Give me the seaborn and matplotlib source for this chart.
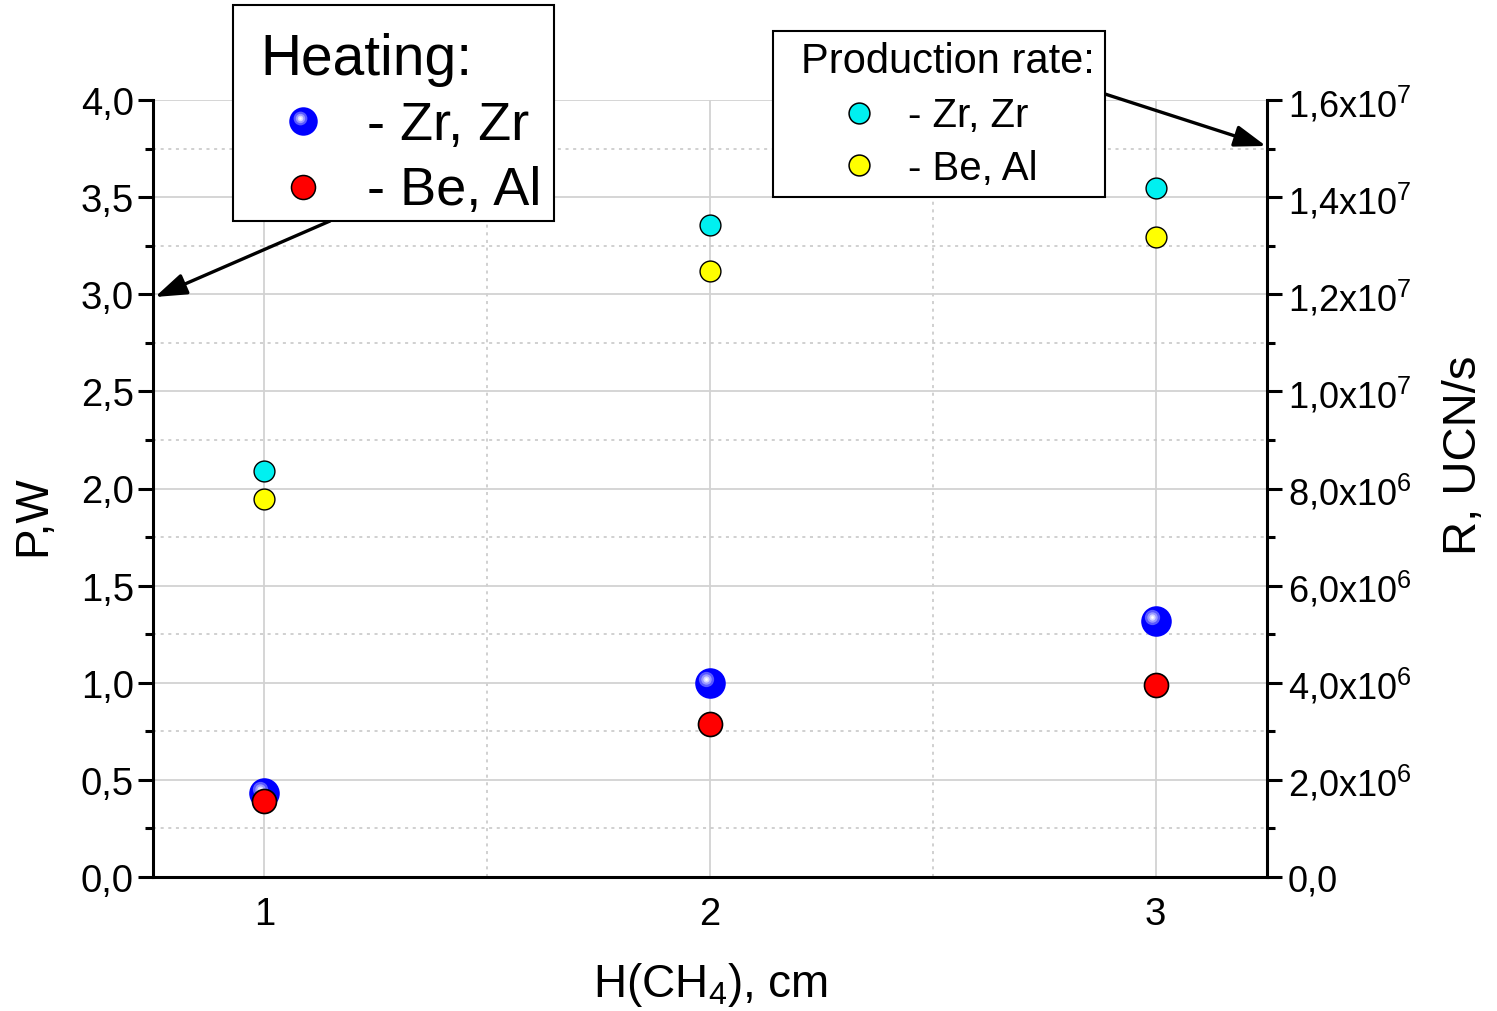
import matplotlib
matplotlib.use("Agg")
import matplotlib.pyplot as plt
import seaborn as sns
import pandas as pd
from matplotlib.patches import Rectangle
from matplotlib.lines import Line2D
from matplotlib.transforms import offset_copy
from matplotlib.ticker import FixedLocator

# ---- data -------------------------------------------------------------
h_cm = [1, 2, 3]                                  # H(CH4), cm
heat_zr_zr = [0.43, 1.00, 1.32]                   # P, W  (Zr, Zr)
heat_be_al = [0.39, 0.79, 0.99]                   # P, W  (Be, Al)
rate_zr_zr = [8.36e6, 1.343e7, 1.419e7]           # R, UCN/s (Zr, Zr)
rate_be_al = [7.78e6, 1.248e7, 1.318e7]           # R, UCN/s (Be, Al)

x_ticks = [1, 2, 3]
x_labels = ["1", "2", "3"]
p_ticks = [0.0, 0.5, 1.0, 1.5, 2.0, 2.5, 3.0, 3.5, 4.0]
p_labels = ["0,0", "0,5", "1,0", "1,5", "2,0", "2,5", "3,0", "3,5", "4,0"]
r_ticks = [0, 2e6, 4e6, 6e6, 8e6, 1e7, 1.2e7, 1.4e7, 1.6e7]
r_mant = ["0,0", "2,0", "4,0", "6,0", "8,0", "1,0", "1,2", "1,4", "1,6"]
r_exp = [None, 6, 6, 6, 6, 7, 7, 7, 7]

heat = pd.DataFrame({"H": h_cm, "ZrZr": heat_zr_zr, "BeAl": heat_be_al})
rate = pd.DataFrame({"H": h_cm, "ZrZr": rate_zr_zr, "BeAl": rate_be_al})

# ---- style ------------------------------------------------------------
sns.set_style("white")
plt.rcParams.update({
    "font.family": ["Liberation Sans", "DejaVu Sans"],
    "mathtext.fontset": "custom",
    "mathtext.rm": "Liberation Sans",
    "mathtext.it": "Liberation Sans:italic",
    "mathtext.bf": "Liberation Sans:bold",
    "text.color": "black",
    "axes.edgecolor": "black",
})

W, H = 1497, 1012
fig = plt.figure(figsize=(W / 100, H / 100), dpi=100)
fig.subplots_adjust(left=153 / W, right=1267 / W, bottom=1 - 878 / H, top=1 - 101 / H)
ax = fig.add_subplot(111)
ax2 = ax.twinx()


def fx(px):
    return px / W


def fy(py):
    return 1 - py / H


BLUE, RED, CYAN, YELLOW = "#0000ff", "#ff0000", "#00f0f0", "#ffff00"
D_BLUE, D_RED, D_SMALL = 22.0, 17.3, 15.0       # marker diameters, pt
S_BLUE, S_RED, S_SMALL = D_BLUE ** 2, D_RED ** 2, D_SMALL ** 2
GLINT = ((11.0, "#5a5aff"), (7.5, "#9a9aff"), (4.5, "#d8d8ff"), (2.0, "white"))


def sphere_glint(axis, xs, ys, transform_base, **kw):
    """Light spot drawn up-left of each blue ball to give it a shaded look."""
    tr = offset_copy(transform_base, fig=fig, x=-4, y=4, units="dots")
    for d, c in GLINT:
        axis.scatter(xs, ys, s=d ** 2, color=c, linewidths=0, transform=tr, **kw)


# ---- heating (left axis) ---------------------------------------------
sns.scatterplot(data=heat, x="H", y="ZrZr", ax=ax, color=BLUE, s=S_BLUE,
                linewidth=0, zorder=3, legend=False)
sphere_glint(ax, heat["H"], heat["ZrZr"], ax.transData, zorder=3.1)
sns.scatterplot(data=heat, x="H", y="BeAl", ax=ax, color=RED, s=S_RED,
                edgecolor="black", linewidth=1.2, zorder=4, legend=False)

# ---- production rate (right axis) -------------------------------------
sns.scatterplot(data=rate, x="H", y="ZrZr", ax=ax2, color=CYAN, s=S_SMALL,
                edgecolor="black", linewidth=1.0, zorder=4, legend=False)
sns.scatterplot(data=rate, x="H", y="BeAl", ax=ax2, color=YELLOW, s=S_SMALL,
                edgecolor="black", linewidth=1.0, zorder=4, legend=False)

# ---- axes -------------------------------------------------------------
ax.set_xlim(0.75, 3.25)
ax.set_ylim(0, 4.0)
ax2.set_ylim(0, 1.6e7)

ax.xaxis.set_major_locator(FixedLocator(x_ticks))
ax.set_xticklabels(x_labels)
ax.xaxis.set_minor_locator(FixedLocator([1.5, 2.5]))
ax.yaxis.set_major_locator(FixedLocator(p_ticks))
ax.set_yticklabels(p_labels)
ax.yaxis.set_minor_locator(FixedLocator([0.25 + 0.5 * i for i in range(8)]))

ax2.yaxis.set_major_locator(FixedLocator(r_ticks))
ax2.set_yticklabels([
    m if e is None else r"$\mathregular{%sx10^{%d}}$" % (m.replace(",", "{,}"), e)
    for m, e in zip(r_mant, r_exp)
])
ax2.yaxis.set_minor_locator(FixedLocator([1e6 + 2e6 * i for i in range(8)]))

ax.set_xlabel("")
ax.set_ylabel("")
ax2.set_ylabel("")

ax.grid(True, which="major", color="#d2d2d2", linewidth=1.3, linestyle="-")
ax.grid(True, which="minor", color="#c4c4c4", linewidth=1.1, linestyle=(0, (2, 3)))
ax.set_axisbelow(True)
ax2.grid(False)

for a in (ax, ax2):
    for side in ("top", "left", "right", "bottom"):
        a.spines[side].set_visible(False)
ax.spines["left"].set_visible(True)
ax.spines["bottom"].set_visible(True)
ax2.spines["right"].set_visible(True)
for sp in (ax.spines["left"], ax.spines["bottom"], ax2.spines["right"]):
    sp.set_linewidth(2.2)
    sp.set_color("black")

ax.tick_params(axis="both", which="major", direction="out", length=10.8, width=2.2,
               labelsize=27.5, pad=3, colors="black", top=False, right=False)
ax.tick_params(axis="both", which="minor", direction="out", length=6, width=2.2,
               colors="black", top=False, right=False)
ax2.tick_params(axis="y", which="major", direction="out", length=10.8, width=2.2,
                labelsize=26, pad=4, colors="black", left=False, right=True)
ax2.tick_params(axis="y", which="minor", direction="out", length=6, width=2.2,
                colors="black", left=False, right=True)

# axis titles
fig.text(fx(33), fy(516), "P,W", rotation=90, ha="center", va="center", fontsize=33)
fig.text(fx(1464), fy(455), "R, UCN/s", rotation=90, ha="center", va="center", fontsize=34)
fig.text(fx(711), fy(997), r"H(CH$\mathregular{_4}$), cm", ha="center", va="baseline",
         fontsize=33)

# ---- key boxes ----------------------------------------------------------
def key_box(x0, y0, x1, y1):
    fig.add_artist(Rectangle((fx(x0), fy(y1)), fx(x1) - fx(x0), fy(y0) - fy(y1),
                             transform=fig.transFigure, facecolor="white",
                             edgecolor="black", linewidth=1.5, zorder=10))


def key_marker(px, py, color, size, edge=True):
    fig.add_artist(Line2D([fx(px)], [fy(py)], transform=fig.transFigure,
                          marker="o", linestyle="none", markersize=size,
                          markerfacecolor=color,
                          markeredgecolor="black" if edge else color,
                          markeredgewidth=1.1 if edge else 0, zorder=11))


key_box(233, 6, 554, 222)
fig.text(fx(260), fy(75), "Heating:", fontsize=41, va="baseline", zorder=12)
key_marker(303, 122, BLUE, D_BLUE - 1.5, edge=False)
for d, c in GLINT:
    key_marker(303 - 3.5, 122 - 3.5, c, d * 0.9, edge=False)
fig.text(fx(367), fy(140), "- Zr, Zr", fontsize=39, va="baseline", zorder=12)
key_marker(303, 188, RED, D_RED)
fig.text(fx(367), fy(205), "- Be, Al", fontsize=39, va="baseline", zorder=12)

key_box(773, 32, 1105, 198)
fig.text(fx(801), fy(73), "Production rate:", fontsize=30, va="baseline", zorder=12)
key_marker(859, 114, CYAN, D_SMALL)
fig.text(fx(908), fy(127), "- Zr, Zr", fontsize=29, va="baseline", zorder=12)
key_marker(859, 166, YELLOW, D_SMALL)
fig.text(fx(908), fy(180), "- Be, Al", fontsize=29, va="baseline", zorder=12)

# arrows pointing to the corresponding axis
arrow_kw = dict(arrowstyle="-|>,head_length=1.6,head_width=0.55", color="black",
                linewidth=2.4, shrinkA=0, shrinkB=0, mutation_scale=12)
ax.annotate("", xy=(fx(155), fy(298)), xycoords="figure fraction",
            xytext=(fx(330), fy(222)), textcoords="figure fraction",
            arrowprops=arrow_kw, zorder=12, annotation_clip=False)
ax.annotate("", xy=(fx(1266), fy(147)), xycoords="figure fraction",
            xytext=(fx(1105), fy(95)), textcoords="figure fraction",
            arrowprops=arrow_kw, zorder=12, annotation_clip=False)

fig.savefig("out.png", dpi=100, facecolor="white")
